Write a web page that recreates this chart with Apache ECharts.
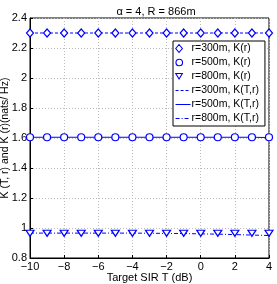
<!DOCTYPE html>
<html><head><meta charset="utf-8">
<script src="https://cdn.jsdelivr.net/npm/echarts@6/dist/echarts.min.js"></script>
<style>html,body{margin:0;padding:0;background:#fff}#c{width:277px;height:284px}</style>
</head><body><div id="c"></div>
<script>
const xVals = [-10,-9,-8,-7,-6,-5,-4,-3,-2,-1,0,1,2,3,4];
const K300 = [2.3,2.3,2.3,2.3,2.3,2.3,2.3,2.3,2.3,2.3,2.3,2.3,2.3,2.3,2.3];
const K500 = [1.605,1.605,1.605,1.605,1.605,1.605,1.605,1.605,1.605,1.605,1.605,1.605,1.605,1.605,1.605];
const K800 = [0.965,0.965,0.965,0.965,0.965,0.965,0.965,0.965,0.965,0.965,0.965,0.965,0.965,0.965,0.965];
const KT300 = [2.3,2.3,2.3,2.3,2.3,2.3,2.3,2.3,2.3,2.3,2.3,2.3,2.3,2.3,2.3];
const KT500 = [1.605,1.605,1.605,1.605,1.605,1.605,1.605,1.605,1.605,1.605,1.605,1.605,1.605,1.605,1.603];
const KT800 = [0.966,0.966,0.966,0.966,0.966,0.966,0.966,0.965,0.964,0.963,0.961,0.959,0.956,0.953,0.95];
const names = ['r=300m, K(r)','r=500m, K(r)','r=800m, K(r)','r=300m, K(T,r)','r=500m, K(T,r)','r=800m, K(T,r)'];

const pair = a => xVals.map((x,i)=>[x,a[i]]);
const blue = '#0000ff';
const font = 'Liberation Sans, Arial, sans-serif';
const chart = echarts.init(document.getElementById('c'));
const mk = (name, data, sym, size, rot) => ({
  name, type:'line', data: pair(data), symbol: sym, symbolSize: size, symbolRotate: rot||0,
  lineStyle:{width:0, opacity:0}, itemStyle:{color:'#fff', borderColor: blue, borderWidth:1.2},
  showSymbol:true, z:3, animation:false, emphasis:{disabled:true}
});
const ln = (name, data, type) => ({
  name, type:'line', data: pair(data), symbol:'none', showSymbol:false,
  lineStyle:{color: blue, width:1, type: type}, itemStyle:{color: blue}, z:2, animation:false, emphasis:{disabled:true}
});
const pad = ' M14.95,0L15,0 M14.95,9L15,9 M0,0L0.05,0';
const diamondIcon = 'path://M3.5,0.5L6.8,4.5L3.5,8.5L0.2,4.5Z' + pad;
const circleIcon = 'path://M7,4.5A3.3,3.3,0,1,1,0.4,4.5A3.3,3.3,0,1,1,7,4.5Z' + pad;
const triIcon = 'path://M0.2,1.5L6.8,1.5L3.5,7Z' + pad;
const dashIcon = 'path://M0,4h3v1h-3z M5,4h3v1h-3z M10,4h3v1h-3z' + pad;
const solidIcon = 'path://M0,4h15v1h-15z' + pad;
const dotDashIcon = 'path://M0,4h4v1h-4z M6,4h1v1h-1z M9,4h4v1h-4z' + pad;
const mkStyle = {color:'#fff',borderColor:blue,borderWidth:1.1};
const lnStyle = {color:blue, borderColor:blue, borderWidth:0};
chart.setOption({
  animation:false,
  textStyle:{fontFamily:font},
  title:{text:'α = 4, R = 866m', left:151, textAlign:'center', top:1, textStyle:{fontSize:11, fontWeight:'normal', color:'#000', fontFamily:font}},
  grid:{left:30, right:8, top:18, bottom:26, show:true, borderColor:'#000', borderWidth:1, containLabel:false, outerBoundsMode:'none'},
  legend:{
    orient:'vertical', left:173, top:41,
    data:[
      {name:names[0], icon:diamondIcon, itemStyle:mkStyle},
      {name:names[1], icon:circleIcon, itemStyle:mkStyle},
      {name:names[2], icon:triIcon, itemStyle:mkStyle},
      {name:names[3], icon:dashIcon, itemStyle:lnStyle},
      {name:names[4], icon:solidIcon, itemStyle:lnStyle},
      {name:names[5], icon:dotDashIcon, itemStyle:lnStyle}
    ],
    backgroundColor:'#fff', borderColor:'#000', borderWidth:1, padding:[2,6,2,2], itemGap:3,
    itemWidth:15, itemHeight:9, textStyle:{fontSize:10.5, lineHeight:10, color:'#000', fontFamily:font, padding:[0,0,0,-4]}
  },
  xAxis:{
    type:'value', min:-10, max:4, interval:2,
    name:'Target SIR T (dB)', nameLocation:'middle', nameGap:14, nameMoveOverlap:false,
    nameTextStyle:{fontSize:11, color:'#000', fontFamily:font},
    axisLine:{show:true, onZero:false, lineStyle:{color:'#000', width:1}},
    axisTick:{inside:true, length:3, lineStyle:{color:'#000'}},
    axisLabel:{fontSize:11, color:'#000', margin:3, formatter: v => String(v).replace('-', '\u2212')},
    splitLine:{show:true, lineStyle:{color:'#bbb', type:[1,2], width:1}}
  },
  yAxis:{
    type:'value', min:0.8, max:2.4, interval:0.2,
    name:'K (T, r) and K (r)(nats/ Hz)', nameLocation:'middle', nameGap:19, nameMoveOverlap:false,
    nameTextStyle:{fontSize:10.5, color:'#000', fontFamily:font},
    axisLine:{show:true, onZero:false, lineStyle:{color:'#000', width:1}},
    axisTick:{inside:true, length:3, lineStyle:{color:'#000'}},
    axisLabel:{fontSize:11, color:'#000', margin:3, formatter: v => String(+v.toFixed(1))},
    splitLine:{show:true, lineStyle:{color:'#bbb', type:[1,2], width:1}}
  },
  series:[
    mk(names[0], K300, 'diamond', [7,8]),
    mk(names[1], K500, 'circle', 7),
    mk(names[2], K800, 'triangle', [8,6], 180),
    ln(names[3], KT300, [3,2]),
    ln(names[4], KT500, 'solid'),
    ln(names[5], KT800, [4,2,1,2])
  ]
});
</script></body></html>
